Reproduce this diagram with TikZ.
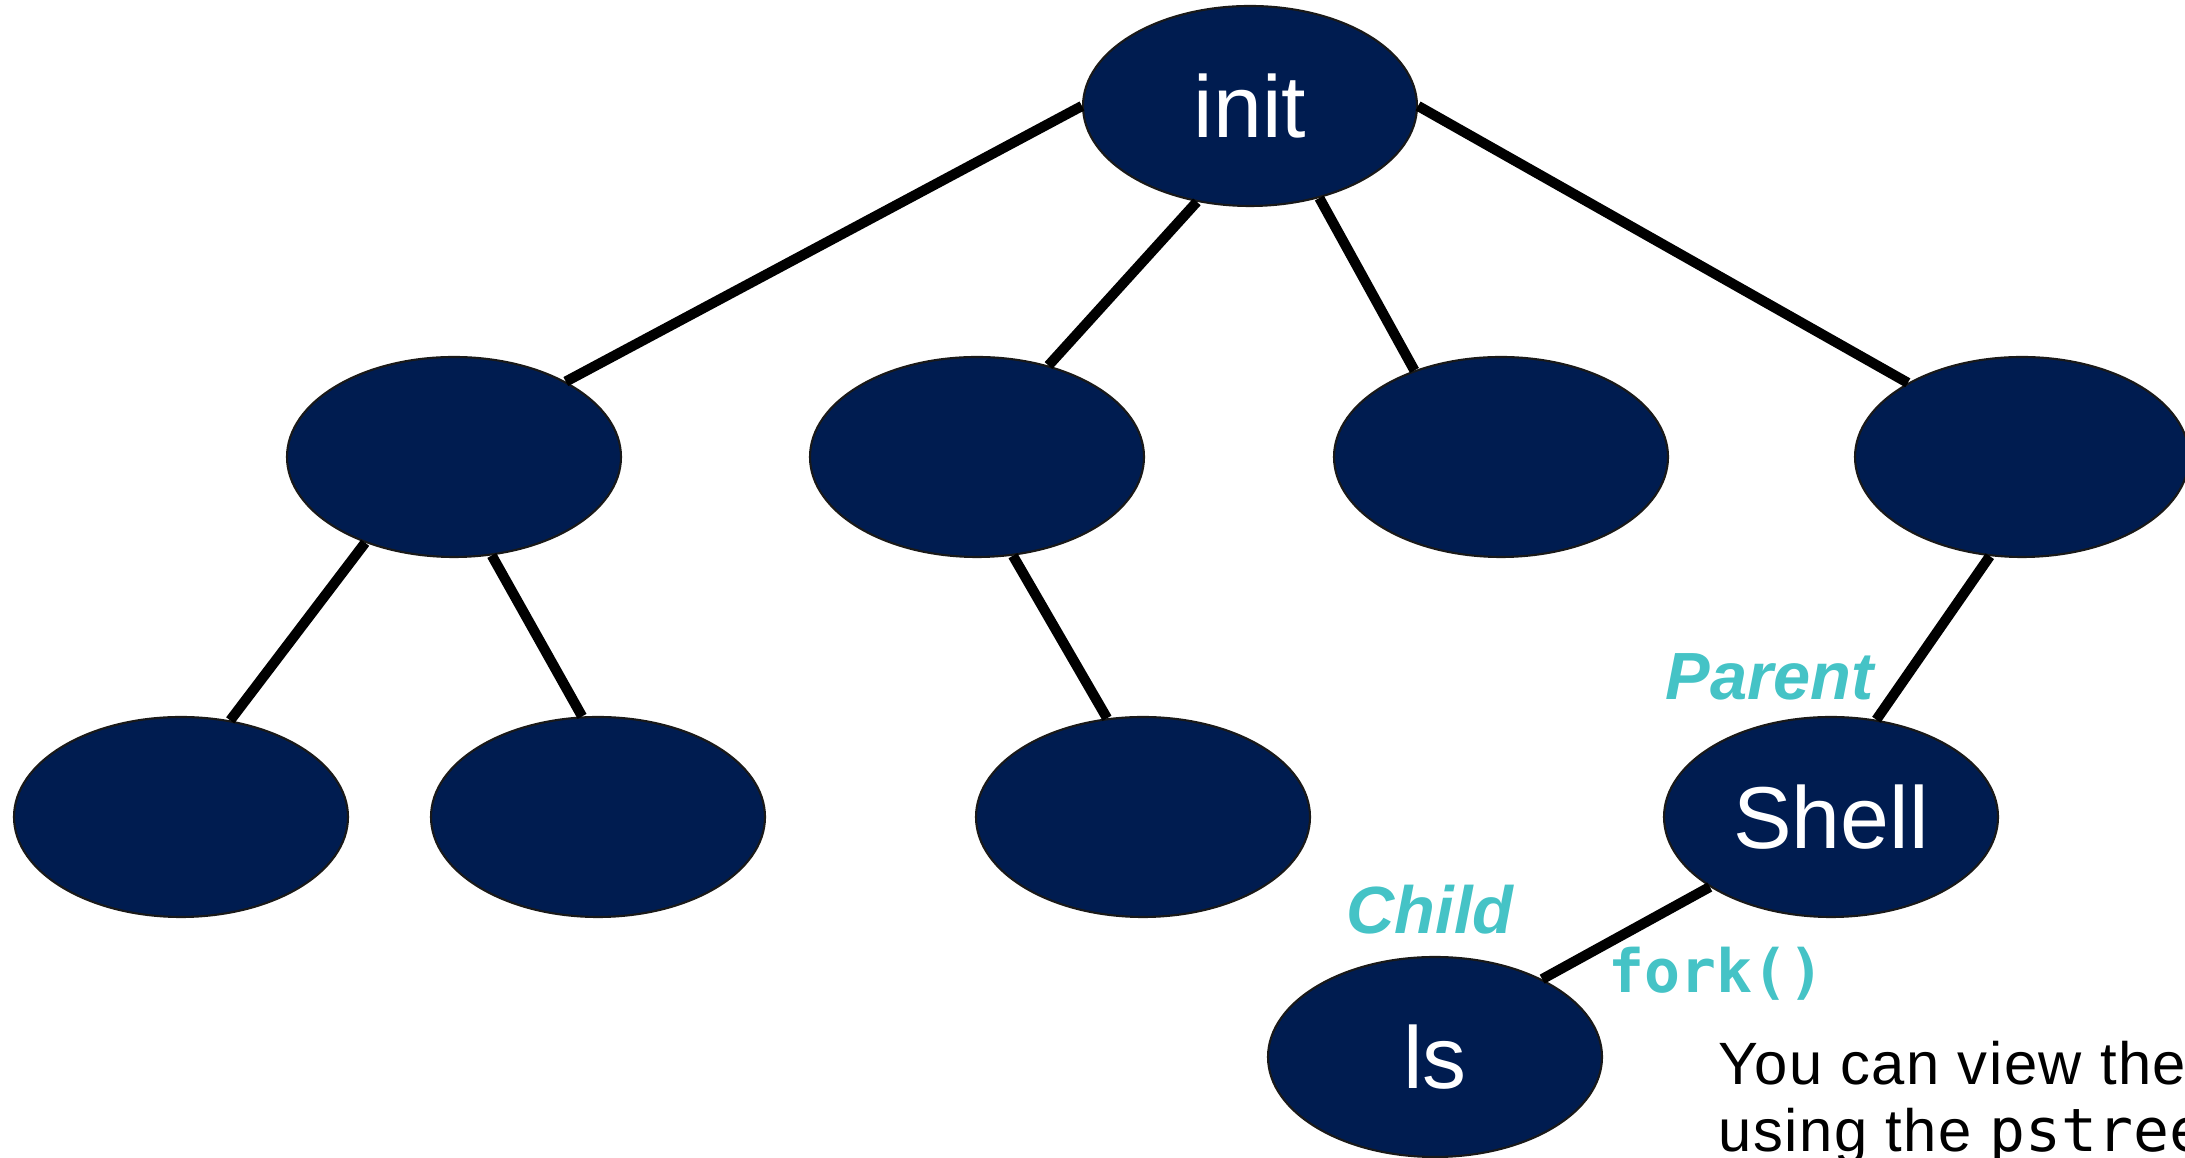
\documentclass[tikz,border=0pt]{standalone}
\usepackage{fontspec}
\setmainfont{Liberation Sans}
\newfontfamily\codefont{DejaVu Sans Mono}
\newfontfamily\notefont[LetterSpace=2.5]{Liberation Sans}
\definecolor{procnavy}{RGB}{0,28,80}
\definecolor{forkteal}{RGB}{69,195,198}
\usetikzlibrary{shapes.geometric}

\begin{document}
\begin{tikzpicture}[
  proc/.style={ellipse,draw=black!90,line width=0.6pt,fill=procnavy,minimum width=3.34cm,minimum height=2cm,inner sep=0pt,text=white,font=\fontsize{25}{30}\selectfont},
  link/.style={line width=2.9pt,black},
  tag/.style={inner sep=0pt,anchor=base west,text=forkteal}]
  \useasboundingbox (0,0) rectangle (21.85,11.58);
  \clip (0,0) rectangle (21.85,11.58);
  % process tree
  \node[proc] (init) at (12.50,10.52) {init};
  \node[proc] (nA) at (4.54,7.01) {};
  \node[proc] (nB) at (9.77,7.01) {};
  \node[proc] (nC) at (15.01,7.01) {};
  \node[proc] (nD) at (20.22,7.01) {};
  \node[proc] (nAA) at (1.81,3.41) {};
  \node[proc] (nAB) at (5.98,3.41) {};
  \node[proc] (nBA) at (11.43,3.41) {};
  \node[proc] (shell) at (18.31,3.41) {Shell};
  \node[proc] (ls) at (14.35,1.01) {ls};
  \draw[link] (init.west) -- (nA.34);
  \draw[link] (init.241) -- (nB.52);
  \draw[link] (init.307) -- (nC.135);
  \draw[link] (init.east) -- (nD.147);
  \draw[link] (nA.224) -- (nAA.63);
  \draw[link] (nA.291) -- (nAB.99);
  \draw[link] (nB.290) -- (nBA.110);
  \draw[link] (nD.252) -- (shell.65);
  \draw[link] (shell.210) -- (ls.36);
  % labels
  \node[tag,font=\fontsize{19}{23}\selectfont\bfseries\itshape] (parent) at (16.65,4.58) {Parent};
  \node[tag,font=\fontsize{19}{23}\selectfont\bfseries\itshape] (child) at (13.46,2.24) {Child};
  \node[tag,font=\fontsize{17}{20}\selectfont\codefont\bfseries] (fork) at (16.08,1.65) {fork()};
  \node[inner sep=0pt,anchor=base west,font=\fontsize{17}{20}\selectfont\notefont] (note1) at (17.18,0.73) {You can view the};
  \node[inner sep=0pt,anchor=base west,font=\fontsize{17}{20}\selectfont\notefont] (note2) at (17.18,0.06) {using the {\codefont\fontsize{17}{20}\selectfont pstree}};
\end{tikzpicture}
\end{document}
